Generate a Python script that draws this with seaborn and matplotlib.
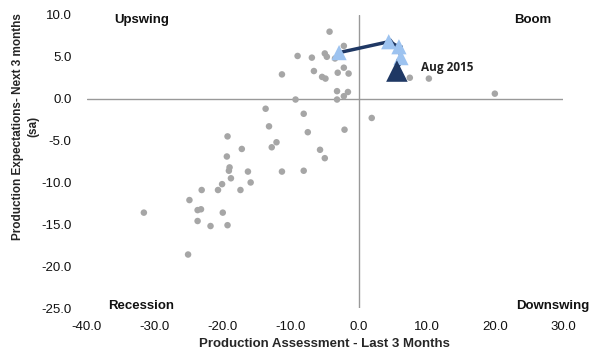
import numpy as np
import pandas as pd
import matplotlib
matplotlib.use("Agg")
import matplotlib.pyplot as plt
import seaborn as sns

# Historical monthly readings (grey dots)
hist_x = [-4.3, -2.2, -9.0, -6.9, -5.0, -4.7, -3.5, -11.3, -6.6, -5.4, -4.9, -3.1,
          -2.2, -1.5, -3.2, -1.6, -2.2, -3.2, -9.3, -13.7, -8.1, -13.2, -7.5, -2.1,
          -19.3, -12.1, -12.8, -17.2, -5.7, -5.0, -19.4, -19.0, -19.1, -16.3, -11.3,
          -8.1, -18.8, -15.9, -20.1, -23.1, -20.7, -17.4, -24.9, -23.7, -23.2, -20.0,
          -31.6, -23.7, -21.8, -19.3, -25.1, 1.9, 7.5, 10.3, 20.0]
hist_y = [8.0, 6.3, 5.1, 4.9, 5.4, 5.0, 4.8, 2.9, 3.3, 2.6, 2.4, 3.1,
          3.7, 3.0, 0.9, 0.8, 0.3, -0.1, -0.1, -1.2, -1.8, -3.3, -4.0, -3.7,
          -4.5, -5.2, -5.8, -6.0, -6.1, -7.1, -6.9, -8.2, -8.6, -8.7, -8.7,
          -8.6, -9.5, -10.0, -10.2, -10.9, -10.9, -10.9, -12.1, -13.3, -13.2, -13.6,
          -13.6, -14.6, -15.2, -15.1, -18.6, -2.3, 2.5, 2.4, 0.6]

# Recent months path, last one is Aug 2015
recent_x = [-2.9, 4.4, 5.9, 6.2, 5.6]
recent_y = [5.5, 6.8, 6.2, 4.9, 3.3]

x_ticks = [-40, -30, -20, -10, 0, 10, 20, 30]
y_ticks = [-25, -20, -15, -10, -5, 0, 5, 10]

sns.set_style("white")
plt.rcParams['font.family'] = ['Liberation Sans', 'DejaVu Sans']

fig, ax = plt.subplots(figsize=(5.9, 3.55), dpi=100)
fig.subplots_adjust(left=0.147, right=0.954, top=0.958, bottom=0.132)

ax.axhline(0, color='#999999', lw=1, zorder=1)
ax.axvline(0, color='#999999', lw=1, zorder=1)

hist = pd.DataFrame({'x': hist_x, 'y': hist_y})
sns.scatterplot(data=hist, x='x', y='y', color='#A6A6A6', s=22, edgecolor='none', ax=ax, zorder=2)

recent = pd.DataFrame({'x': recent_x, 'y': recent_y})
sns.lineplot(data=recent, x='x', y='y', sort=False, color='#1F3864', lw=2.5, ax=ax, zorder=3)
# small arrow heads on the downward segments
for i in range(1, len(recent_x) - 1):
    ax.annotate('', xy=(recent_x[i + 1], recent_y[i + 1]), xytext=(recent_x[i], recent_y[i]),
                arrowprops=dict(arrowstyle='-|>', color='#1F3864', lw=2, mutation_scale=9), zorder=3)
sns.scatterplot(data=recent.iloc[:-1], x='x', y='y', marker='^', color='#9DC3F0', s=120,
                edgecolor='none', ax=ax, zorder=4)
sns.scatterplot(data=recent.iloc[-1:], x='x', y='y', marker='^', color='#1F3864', s=240,
                edgecolor='none', ax=ax, zorder=5)
ax.text(recent_x[-1] + 3.5, recent_y[-1] + 0.45, 'Aug 2015', fontsize=8.5, fontweight='bold',
        family=['Open Sans', 'DejaVu Sans'], va='center', color='#222222')

ax.set_xlim(-40, 30)
ax.set_ylim(-25, 10)
ax.set_xticks(x_ticks)
ax.set_yticks(y_ticks)
ax.set_xticklabels([f'{v:.1f}' for v in x_ticks])
ax.set_yticklabels([f'{v:.1f}' for v in y_ticks])
ax.tick_params(length=0, labelsize=9.5, colors='#111111')
ax.tick_params(axis='y', pad=11)
ax.tick_params(axis='x', pad=9)
for s in ax.spines.values():
    s.set_visible(False)

ax.set_xlabel('Production Assessment - Last 3 Months', fontsize=9.5, fontweight='bold', labelpad=4)
ax.set_ylabel('Production Expectations- Next 3 months\n(sa)', fontsize=8.5, fontweight='bold',
              linespacing=1.35)
ax.yaxis.set_label_coords(-0.10, 0.62)

qkw = dict(fontsize=9.5, fontweight='bold', color='#111111', va='center')
ax.text(-35.9, 9.4, 'Upswing', **qkw)
ax.text(22.8, 9.4, 'Boom', **qkw)
ax.text(-36.9, -24.8, 'Recession', **qkw)
ax.text(23.2, -24.8, 'Downswing', **qkw)

plt.savefig('out.png', dpi=100)
